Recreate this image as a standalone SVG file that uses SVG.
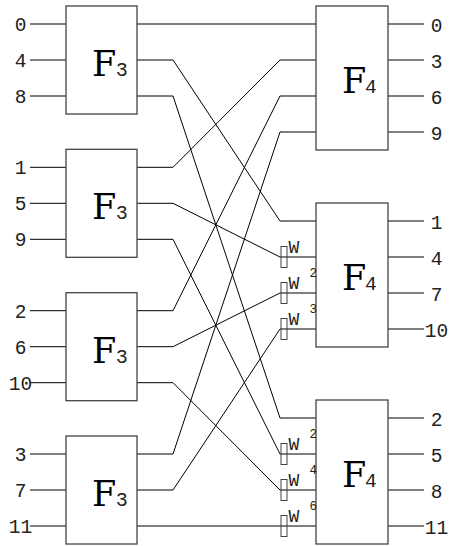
<svg xmlns="http://www.w3.org/2000/svg" width="450" height="546" viewBox="0 0 450 546">
<style>
.box{fill:#fff;stroke:#444;stroke-width:1.3}
.ln{fill:none;stroke:#000;stroke-width:1}
.tw{fill:none;stroke:#444;stroke-width:1}
.lbl{font-family:"Liberation Mono","DejaVu Sans Mono",monospace;font-size:19.5px;fill:#222;text-anchor:middle}
.F{font-family:"DejaVu Serif","Liberation Serif",serif;font-size:35px;fill:#000}
.sub{font-family:"Liberation Mono","DejaVu Sans Mono",monospace;font-size:19.5px;fill:#222}
.w{font-family:"Liberation Mono","DejaVu Sans Mono",monospace;font-size:18px;fill:#222}
.e{font-family:"Liberation Mono","DejaVu Sans Mono",monospace;font-size:12.5px;fill:#222}
</style>
<rect width="450" height="546" fill="#fff"/>
<g id="connectors">
<path class="ln" d="M30,24H66M30,60H66M30,96H66M30,167.3H66M30,203.3H66M30,239.3H66M30,310.7H66M30,346.7H66M30,382.7H66M30,454H66M30,490H66M30,526H66"/>
<path class="ln" d="M388,24H424M388,60H424M388,96H424M388,132H424M388,221H424M388,257H424M388,293H424M388,329H424M388,418H424M388,454H424M388,490H424M388,526H424"/>
<path class="ln" d="M137,24H316"/>
<path class="ln" d="M137,60H173L280,221H316"/>
<path class="ln" d="M137,96H173L280,418H316"/>
<path class="ln" d="M137,167.3H173L280,60H316"/>
<path class="ln" d="M137,203.3H173L280,257H316"/>
<path class="ln" d="M137,239.3H173L280,454H316"/>
<path class="ln" d="M137,310.7H173L280,96H316"/>
<path class="ln" d="M137,346.7H173L280,293H316"/>
<path class="ln" d="M137,382.7H173L280,490H316"/>
<path class="ln" d="M137,454H173L280,132H316"/>
<path class="ln" d="M137,490H173L280,329H316"/>
<path class="ln" d="M137,526H316"/>
</g>
<g id="in-labels">
<text class="lbl" x="20.5" y="31">0</text>
<text class="lbl" x="20.5" y="67">4</text>
<text class="lbl" x="20.5" y="103">8</text>
<text class="lbl" x="20.5" y="174.3">1</text>
<text class="lbl" x="20.5" y="210.3">5</text>
<text class="lbl" x="20.5" y="246.3">9</text>
<text class="lbl" x="20.5" y="317.7">2</text>
<text class="lbl" x="20.5" y="353.7">6</text>
<text class="lbl" x="20.5" y="389.7">10</text>
<text class="lbl" x="20.5" y="461">3</text>
<text class="lbl" x="20.5" y="497">7</text>
<text class="lbl" x="20.5" y="533">11</text>
</g>
<g id="out-labels">
<text class="lbl" x="436.5" y="32">0</text>
<text class="lbl" x="436.5" y="68">3</text>
<text class="lbl" x="436.5" y="104">6</text>
<text class="lbl" x="436.5" y="140">9</text>
<text class="lbl" x="436.5" y="229">1</text>
<text class="lbl" x="436.5" y="265">4</text>
<text class="lbl" x="436.5" y="301">7</text>
<text class="lbl" x="436.5" y="337">10</text>
<text class="lbl" x="436.5" y="426">2</text>
<text class="lbl" x="436.5" y="462">5</text>
<text class="lbl" x="436.5" y="498">8</text>
<text class="lbl" x="436.5" y="534">11</text>
</g>
<g id="F3-0"><rect class="box" x="66" y="6" width="71" height="108"/><text class="F" x="92" y="76">F</text><text class="sub" x="116" y="76">3</text></g>
<g id="F3-1"><rect class="box" x="66" y="149.3" width="71" height="108"/><text class="F" x="92" y="219.3">F</text><text class="sub" x="116" y="219.3">3</text></g>
<g id="F3-2"><rect class="box" x="66" y="292.7" width="71" height="108"/><text class="F" x="92" y="362.7">F</text><text class="sub" x="116" y="362.7">3</text></g>
<g id="F3-3"><rect class="box" x="66" y="436" width="71" height="108"/><text class="F" x="92" y="506">F</text><text class="sub" x="116" y="506">3</text></g>
<g id="F4-0"><rect class="box" x="316" y="6" width="72" height="144"/><text class="F" x="342" y="93">F</text><text class="sub" x="365" y="93">4</text></g>
<g id="F4-1"><rect class="box" x="316" y="203" width="72" height="144"/><text class="F" x="342" y="290">F</text><text class="sub" x="365" y="290">4</text></g>
<g id="F4-2"><rect class="box" x="316" y="400" width="72" height="144"/><text class="F" x="342" y="487">F</text><text class="sub" x="365" y="487">4</text></g>
<g id="twiddles">
<rect class="tw" x="281" y="246.5" width="6" height="21"/><text class="w" x="288.5" y="253">W</text>
<rect class="tw" x="281" y="282.5" width="6" height="21"/><text class="w" x="288.5" y="289">W</text><text class="e" x="309.5" y="277">2</text>
<rect class="tw" x="281" y="318.5" width="6" height="21"/><text class="w" x="288.5" y="325">W</text><text class="e" x="309.5" y="313">3</text>
<rect class="tw" x="281" y="443.5" width="6" height="21"/><text class="w" x="288.5" y="450">W</text><text class="e" x="309.5" y="438">2</text>
<rect class="tw" x="281" y="479.5" width="6" height="21"/><text class="w" x="288.5" y="486">W</text><text class="e" x="309.5" y="474">4</text>
<rect class="tw" x="281" y="515.5" width="6" height="21"/><text class="w" x="288.5" y="522">W</text><text class="e" x="309.5" y="510">6</text>
</g>
</svg>
